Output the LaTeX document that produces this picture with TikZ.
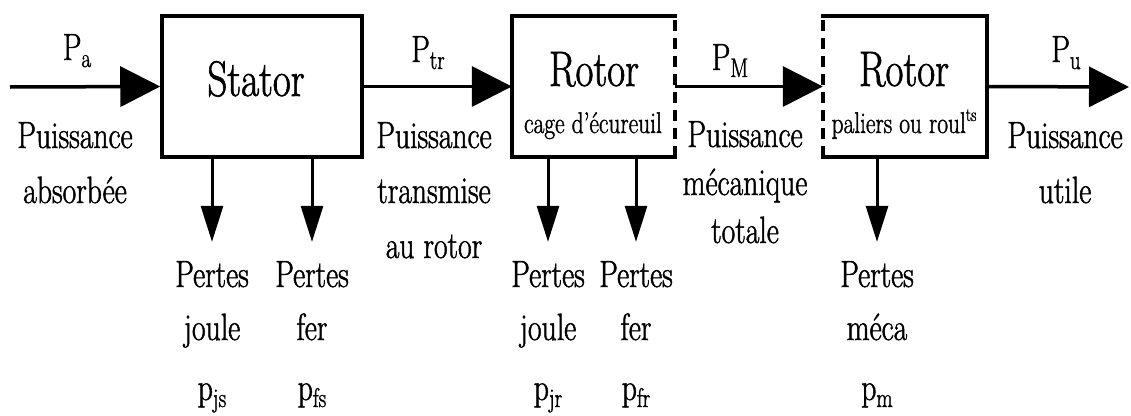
\documentclass[tikz,border=0pt]{standalone}
\usepackage{fontspec}
\setmainfont{Latin Modern Roman}[FakeBold=1.3, FakeStretch=0.78]
\usetikzlibrary{arrows.meta}

% type sizes
\newcommand\bigtxt{\fontsize{50}{50}\selectfont}
\newcommand\midtxt{\fontsize{38}{38}\selectfont}
\newcommand\smalltxt{\fontsize{30}{30}\selectfont}
% lowered and raised indices
\newcommand\lowidx[1]{\raisebox{-7pt}{\fontsize{27}{27}\selectfont #1}}
\newcommand\highidx[1]{\raisebox{12pt}{\fontsize{19}{19}\selectfont #1}}

\begin{document}
\begin{tikzpicture}[x=1pt,y=-1pt,
  block/.style={inner sep=0pt, minimum height=141pt},
  edge/.style={line width=3.5pt},
  sideedge/.style={line width=3.5pt, dash pattern=on 11pt off 7pt, dash phase=-4pt},
  flow/.style={line width=3.5pt, -{Triangle[length=40pt,width=40pt]}},
  loss/.style={line width=3pt, -{Triangle[length=36pt,width=22pt]}, shorten >=19pt},
  big/.style={anchor=base, inner sep=0pt, font=\bigtxt},
  mid/.style={anchor=base, inner sep=0pt, font=\midtxt},
  small/.style={anchor=base, inner sep=0pt, font=\smalltxt}
]
\useasboundingbox (0,0) rectangle (1131,415);

% the three blocks
\node[block, draw, edge, minimum width=200pt] (stator) at (262,86.5) {};
\node[block, minimum width=163pt] (rotA) at (593.5,86.5) {};
\node[block, minimum width=164pt] (rotB) at (905,86.5) {};

\draw[edge, line cap=rect] (rotA.north east) -- (rotA.north west) -- (rotA.south west) -- (rotA.south east);
\draw[sideedge] (rotA.north east) -- (rotA.south east);
\draw[edge, line cap=rect] (rotB.north west) -- (rotB.north east) -- (rotB.south east) -- (rotB.south west);
\draw[sideedge] (rotB.north west) -- (rotB.south west);

% block captions
\node[big] (tStator) at (256,96) {Stator};
\node[big] (tRotA) at (594,86) {Rotor};
\node[small] (tCage) at (593,133) {cage d’écureuil};
\node[big] (tRotB) at (904,86) {Rotor};
\node[small] (tPal) at (904,133) {paliers ou roul\highidx{ts}};

% power flow
\coordinate (src) at (10,87);
\coordinate (dst) at (1129,87);
\draw[flow] (src) -- (stator.west);
\draw[flow] (stator.east) -- (rotA.west);
\draw[flow] (rotA.east) -- (rotB.west);
\draw[flow] (rotB.east) -- (dst);

% labels of the flows
\node[mid] (pa) at (77,60) {P\lowidx{a}};
\node[mid] (pa1) at (75,148) {Puissance};
\node[mid] (pa2) at (75,203) {absorbée};

\node[mid] (ptr) at (428,62) {P\lowidx{tr}};
\node[mid] (ptr1) at (434,148) {Puissance};
\node[mid] (ptr2) at (434,203) {transmise};
\node[mid] (ptr3) at (434,258) {au rotor};

\node[mid] (pM) at (730,70) {P\lowidx{M}};
\node[mid] (pM1) at (745,147) {Puissance};
\node[mid] (pM2) at (745,195) {mécanique};
\node[mid] (pM3) at (745,243) {totale};

\node[mid] (pu) at (1066,62) {P\lowidx{u}};
\node[mid] (pu1) at (1065,148) {Puissance};
\node[mid] (pu2) at (1065,203) {utile};

% losses
\node[mid] (js1) at (212,287) {Pertes};
\node[mid] (js2) at (212,340) {joule};
\node[mid] (js3) at (212,400) {p\lowidx{js}};

\node[mid] (fs1) at (312,287) {Pertes};
\node[mid] (fs2) at (312,340) {fer};
\node[mid] (fs3) at (312,400) {p\lowidx{fs}};

\node[mid] (jr1) at (548,287) {Pertes};
\node[mid] (jr2) at (548,340) {joule};
\node[mid] (jr3) at (548,400) {p\lowidx{jr}};

\node[mid] (fr1) at (636,287) {Pertes};
\node[mid] (fr2) at (636,340) {fer};
\node[mid] (fr3) at (636,400) {p\lowidx{fr}};

\node[mid] (m1) at (877,287) {Pertes};
\node[mid] (m2) at (877,340) {méca};
\node[mid] (m3) at (877,400) {p\lowidx{m}};

\draw[loss] (stator.south -| js1) -- (js1.north);
\draw[loss] (stator.south -| fs1) -- (fs1.north);
\draw[loss] (rotA.south -| jr1) -- (jr1.north);
\draw[loss] (rotA.south -| fr1) -- (fr1.north);
\draw[loss] (rotB.south -| m1) -- (m1.north);
\end{tikzpicture}
\end{document}
